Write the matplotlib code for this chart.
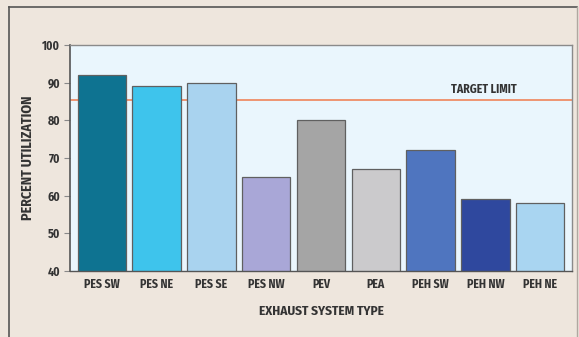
import matplotlib
matplotlib.use("Agg")
import matplotlib.pyplot as plt
from matplotlib import font_manager as fm

categories = ["PES SW", "PES NE", "PES SE", "PES NW", "PEV", "PEA", "PEH SW", "PEH NW", "PEH NE"]
values = [92, 89, 90, 65, 80, 67, 72, 59, 58]
target_limit = 85.3
yticks = [40, 50, 60, 70, 80, 90, 100]
colors = ["#0E7391", "#3EC4EC", "#A9D3EF", "#A9A7D7", "#A5A5A5", "#CBCACC",
          "#4F75BF", "#2F489E", "#A9D5F1"]

names = {f.name for f in fm.fontManager.ttflist}
prefs = ["Fira Sans Condensed", "Roboto Condensed", "Liberation Sans Narrow"]
fam = [p for p in prefs if p in names][:1] + ["DejaVu Sans"]
plt.rcParams['font.family'] = fam
plt.rcParams['font.weight'] = 'bold'

W, H = 579, 337
fig = plt.figure(figsize=(W / 100, H / 100), dpi=100, facecolor="#EEE6DD")
ax = fig.add_axes([70 / W, 1 - 271 / H, (572 - 70) / W, (271 - 45) / H])
ax.set_facecolor("#EAF6FD")

# outer frame lines
fig.add_artist(plt.Line2D([9 / W, 9 / W], [0, 1 - 7 / H], transform=fig.transFigure, color="#555555", lw=1.2))
fig.add_artist(plt.Line2D([9 / W, 577 / W], [1 - 7 / H, 1 - 7 / H], transform=fig.transFigure, color="#555555", lw=1.2))
fig.add_artist(plt.Line2D([577 / W, 577 / W], [0, 1 - 7 / H], transform=fig.transFigure, color="#B0A8A0", lw=1.0))

x = list(range(len(categories)))
ax.axhline(target_limit, color="#F0855A", lw=1.2, zorder=1)
ax.bar(x, values, width=0.885, bottom=0, color=colors, edgecolor="#606060", linewidth=0.9, zorder=2)
ax.text(6.98, target_limit + 1.3, "TARGET LIMIT", ha="center", va="bottom", fontsize=8.5,
        fontweight="bold", color="#333333")

ax.set_xlim(-0.58, 8.58)
ax.set_ylim(40, 100)
ax.set_yticks(yticks)
ax.set_yticklabels([str(v) for v in yticks], fontsize=8.5, fontweight="bold", color="#333333")
ax.set_xticks(x)
ax.set_xticklabels(categories, fontsize=8.5, fontweight="bold", color="#333333")
ax.tick_params(axis="x", length=0, pad=5)
ax.tick_params(axis="y", length=4, width=0.8, color="#888888", pad=3)

ax.spines["left"].set_color("#555555")
ax.spines["left"].set_linewidth(1.2)
ax.spines["bottom"].set_color("#555555")
ax.spines["bottom"].set_linewidth(1.0)
for s in ["top", "right"]:
    ax.spines[s].set_color("#8A8A8A")
    ax.spines[s].set_linewidth(1.0)

ax.set_xlabel("EXHAUST SYSTEM TYPE", fontsize=9.5, fontweight="bold", color="#333333")
ax.set_ylabel("PERCENT UTILIZATION", fontsize=10, fontweight="bold", color="#333333")
ax.xaxis.set_label_coords(0.5, (271 - 305) / 226)
ax.yaxis.set_label_coords((35 - 70) / 502, 0.5)

fig.savefig("out.png", dpi=100, facecolor=fig.get_facecolor())
